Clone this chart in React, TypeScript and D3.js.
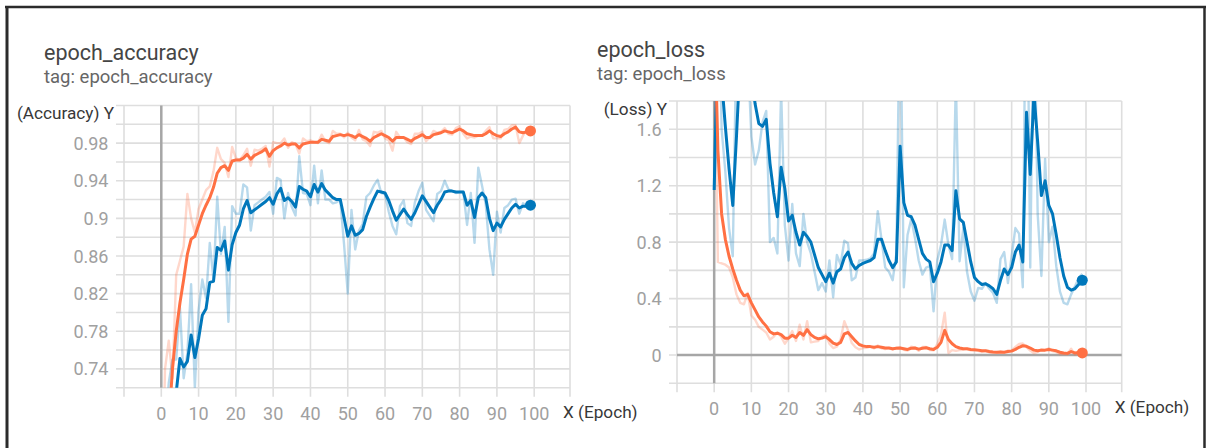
import { useEffect, useRef } from 'react';
import * as d3 from 'd3';

// epoch_accuracy, one value per epoch (0..99)
const accTrainSmooth = [
  0.55, 0.62, 0.68, 0.74, 0.78, 0.81, 0.835, 0.862, 0.878, 0.881,
  0.893, 0.905, 0.914, 0.922, 0.933, 0.948, 0.954, 0.956, 0.951, 0.961,
  0.962, 0.962, 0.964, 0.968, 0.963, 0.967, 0.969, 0.971, 0.974, 0.966,
  0.972, 0.975, 0.977, 0.98, 0.978, 0.979, 0.979, 0.975, 0.979, 0.98,
  0.981, 0.981, 0.981, 0.984, 0.983, 0.982, 0.987, 0.988, 0.989, 0.988,
  0.989, 0.988, 0.986, 0.989, 0.987, 0.985, 0.982, 0.986, 0.988, 0.99,
  0.988, 0.986, 0.982, 0.986, 0.986, 0.986, 0.984, 0.982, 0.985, 0.987,
  0.989, 0.986, 0.986, 0.989, 0.99, 0.991, 0.993, 0.992, 0.991, 0.993,
  0.995, 0.993, 0.99, 0.989, 0.988, 0.988, 0.988, 0.99, 0.993, 0.99,
  0.988, 0.987, 0.99, 0.992, 0.995, 0.997, 0.992, 0.991, 0.992, 0.993,
];
const accTrainRaw = [
  0.55, 0.74, 0.77, 0.73, 0.84, 0.855, 0.87, 0.926, 0.9, 0.885,
  0.91, 0.92, 0.93, 0.934, 0.95, 0.975, 0.963, 0.959, 0.944, 0.976,
  0.964, 0.962, 0.967, 0.974, 0.956, 0.973, 0.972, 0.974, 0.977, 0.955,
  0.981, 0.98, 0.98, 0.985, 0.975, 0.981, 0.979, 0.969, 0.985, 0.982,
  0.983, 0.981, 0.98, 0.989, 0.982, 0.98, 0.993, 0.99, 0.99, 0.986,
  0.991, 0.986, 0.983, 0.994, 0.984, 0.982, 0.977, 0.992, 0.991, 0.993,
  0.985, 0.983, 0.972, 0.992, 0.986, 0.986, 0.981, 0.979, 0.99, 0.99,
  0.992, 0.982, 0.986, 0.993, 0.991, 0.992, 0.996, 0.99, 0.989, 0.996,
  0.998, 0.99, 0.985, 0.987, 0.986, 0.988, 0.988, 0.993, 0.997, 0.985,
  0.985, 0.985, 0.994, 0.995, 0.999, 0.999, 0.98, 0.988, 0.994, 0.994,
];
const accValSmooth = [
  0.55, 0.6, 0.65, 0.69, 0.715, 0.751, 0.742, 0.748, 0.776, 0.752,
  0.772, 0.797, 0.804, 0.832, 0.833, 0.869, 0.866, 0.876, 0.845, 0.872,
  0.885, 0.893, 0.91, 0.919, 0.906, 0.909, 0.912, 0.915, 0.918, 0.922,
  0.915, 0.926, 0.932, 0.919, 0.922, 0.918, 0.912, 0.934, 0.931, 0.929,
  0.923, 0.936, 0.928, 0.937, 0.93, 0.926, 0.922, 0.92, 0.92, 0.901,
  0.881, 0.892, 0.882, 0.884, 0.888, 0.902, 0.912, 0.921, 0.929, 0.928,
  0.927, 0.919, 0.908, 0.898, 0.904, 0.91, 0.904, 0.899, 0.906, 0.915,
  0.924, 0.918, 0.912, 0.906, 0.914, 0.92, 0.928, 0.929, 0.929, 0.928,
  0.928, 0.928, 0.914, 0.919, 0.901, 0.922, 0.927, 0.922, 0.9, 0.887,
  0.895, 0.891, 0.899, 0.905, 0.911, 0.915, 0.911, 0.913, 0.913, 0.914,
];
const accValRaw = [
  0.55, 0.675, 0.725, 0.75, 0.75, 0.805, 0.73, 0.757, 0.83, 0.72,
  0.802, 0.835, 0.815, 0.874, 0.835, 0.923, 0.862, 0.891, 0.79, 0.913,
  0.905, 0.905, 0.936, 0.933, 0.887, 0.914, 0.917, 0.92, 0.923, 0.928,
  0.905, 0.943, 0.941, 0.9, 0.927, 0.912, 0.903, 0.966, 0.927, 0.926,
  0.914, 0.956, 0.916, 0.951, 0.92, 0.92, 0.916, 0.917, 0.92, 0.873,
  0.82, 0.909, 0.867, 0.887, 0.894, 0.923, 0.927, 0.935, 0.941, 0.927,
  0.926, 0.907, 0.892, 0.883, 0.913, 0.919, 0.895, 0.892, 0.917, 0.929,
  0.938, 0.909, 0.903, 0.897, 0.926, 0.929, 0.94, 0.931, 0.929, 0.927,
  0.928, 0.928, 0.893, 0.927, 0.874, 0.954, 0.935, 0.915, 0.867, 0.84,
  0.907, 0.885, 0.911, 0.914, 0.92, 0.921, 0.905, 0.916, 0.913, 0.914,
];

// epoch_loss, one value per epoch (0..99)
const lossTrainSmooth = [
  2.5, 1.45, 1.0, 0.82, 0.7, 0.61, 0.53, 0.46, 0.42, 0.43,
  0.37, 0.32, 0.27, 0.235, 0.205, 0.165, 0.15, 0.155, 0.145, 0.12,
  0.12, 0.14, 0.125, 0.16, 0.14, 0.18, 0.145, 0.125, 0.115, 0.12,
  0.13, 0.11, 0.085, 0.075, 0.09, 0.15, 0.16, 0.13, 0.1, 0.075,
  0.065, 0.06, 0.06, 0.055, 0.06, 0.055, 0.05, 0.05, 0.045, 0.048,
  0.05, 0.045, 0.04, 0.048, 0.05, 0.042, 0.048, 0.052, 0.045, 0.04,
  0.055, 0.09, 0.175, 0.11, 0.08, 0.06, 0.05, 0.045, 0.045, 0.04,
  0.038, 0.035, 0.03, 0.03, 0.025, 0.022, 0.02, 0.022, 0.02, 0.025,
  0.028, 0.04, 0.055, 0.066, 0.062, 0.05, 0.035, 0.03, 0.035, 0.035,
  0.04, 0.035, 0.03, 0.02, 0.015, 0.012, 0.025, 0.015, 0.018, 0.015,
];
const lossTrainRaw = [
  2.5, 0.66, 0.65, 0.64, 0.62, 0.55, 0.43, 0.37, 0.36, 0.44,
  0.28, 0.25, 0.2, 0.18, 0.16, 0.11, 0.13, 0.16, 0.13, 0.08,
  0.12, 0.17, 0.1, 0.215, 0.11, 0.24, 0.09, 0.095, 0.1, 0.13,
  0.145, 0.08, 0.05, 0.06, 0.11, 0.24, 0.175, 0.085, 0.055, 0.04,
  0.05, 0.052, 0.06, 0.048, 0.068, 0.048, 0.043, 0.05, 0.038, 0.052,
  0.053, 0.038, 0.032, 0.06, 0.053, 0.03, 0.057, 0.058, 0.035, 0.033,
  0.078, 0.145, 0.3, 0.015, 0.035, 0.03, 0.035, 0.038, 0.045, 0.033,
  0.035, 0.03, 0.022, 0.03, 0.018, 0.018, 0.017, 0.025, 0.017, 0.032,
  0.032, 0.058, 0.078, 0.082, 0.056, 0.032, 0.013, 0.022, 0.042, 0.035,
  0.048, 0.028, 0.022, 0.005, 0.008, 0.008, 0.045, 0.002, 0.022, 0.013,
];
const lossValSmooth = [
  1.17, 2.3, 1.95, 1.62, 1.32, 1.06, 1.55, 2.1, 2.4, 2.3,
  2.0, 1.78, 1.64, 1.62, 1.67, 1.36, 1.15, 0.98, 1.33, 1.18,
  0.95, 0.99, 0.87, 0.78, 0.87, 0.84, 0.8, 0.71, 0.62, 0.57,
  0.52, 0.58, 0.51, 0.59, 0.61, 0.69, 0.73, 0.65, 0.61, 0.635,
  0.65, 0.66, 0.67, 0.69, 0.82, 0.82, 0.74, 0.67, 0.62, 0.66,
  1.48, 1.08, 0.99, 0.98, 0.92, 0.82, 0.72, 0.68, 0.66, 0.52,
  0.58, 0.66, 0.78, 0.78, 0.74, 1.165, 0.965, 0.94, 0.8, 0.66,
  0.55, 0.52, 0.5, 0.505, 0.49, 0.47, 0.43, 0.53, 0.61, 0.57,
  0.62, 0.73, 0.78, 0.66, 1.72, 1.28, 1.85, 1.51, 1.13, 1.235,
  1.06, 1.0, 0.85, 0.69, 0.56, 0.48, 0.46, 0.47, 0.5, 0.53,
];
const lossValRaw = [
  1.17, 2.9, 1.6, 1.3, 0.9, 0.7, 2.3, 2.9, 2.85, 2.15,
  1.55, 1.35, 1.45, 1.65, 1.73, 0.8, 0.83, 0.72, 1.88, 0.92,
  0.67, 1.07, 0.72, 0.63, 1.0, 0.8, 0.72, 0.59, 0.46, 0.51,
  0.45, 0.67, 0.41, 0.71, 0.64, 0.81, 0.79, 0.53, 0.55, 0.67,
  0.67, 0.675, 0.685, 0.72, 1.02, 0.82, 0.62, 0.59, 0.53, 0.72,
  2.7, 0.48, 0.85, 0.965, 0.83, 0.67, 0.57, 0.62, 0.63, 0.31,
  0.67, 0.78, 0.96, 0.78, 0.68, 1.95, 0.665, 0.9, 0.59, 0.45,
  0.385, 0.475, 0.47, 0.51, 0.47, 0.44, 0.37, 0.68, 0.73, 0.51,
  0.7, 0.9, 0.86, 0.48, 3.3, 0.62, 2.7, 1.0, 0.56, 1.39,
  0.8, 0.91, 0.63, 0.45, 0.37, 0.36, 0.43, 0.485, 0.545, 0.575,
];

const xTickLabels = [0, 10, 20, 30, 40, 50, 60, 70, 80, 90, 100];
const accYTickLabels = [0.74, 0.78, 0.82, 0.86, 0.9, 0.94, 0.98];
const lossYTickLabels = [0, 0.4, 0.8, 1.2, 1.6];

const TRAIN_COLOR = '#ff7043';
const VAL_COLOR = '#0077bb';
const FONT = 'Roboto, "Noto Sans", sans-serif';

type Series = { raw: number[]; smooth: number[]; color: string };

type PanelConfig = {
  id: string;
  title: string;
  tag: string;
  yLabel: string;
  titleX: number;
  titleY: number;
  xRange: [number, number];
  yRange: [number, number];
  yDomain: [number, number];
  yStep: number;
  yTicks: number[];
  series: Series[];
};

const panels: PanelConfig[] = [
  {
    id: 'acc',
    title: 'epoch_accuracy',
    tag: 'tag: epoch_accuracy',
    yLabel: '(Accuracy) Y',
    titleX: 44,
    titleY: 60,
    xRange: [124, 570],
    yRange: [387.7, 105.5],
    yDomain: [0.72, 1.02],
    yStep: 0.02,
    yTicks: accYTickLabels,
    series: [
      { raw: accTrainRaw, smooth: accTrainSmooth, color: TRAIN_COLOR },
      { raw: accValRaw, smooth: accValSmooth, color: VAL_COLOR },
    ],
  },
  {
    id: 'loss',
    title: 'epoch_loss',
    tag: 'tag: epoch_loss',
    yLabel: '(Loss) Y',
    titleX: 597,
    titleY: 57,
    xRange: [677, 1121.7],
    yRange: [383.3, 101],
    yDomain: [-0.2, 1.8],
    yStep: 0.2,
    yTicks: lossYTickLabels,
    series: [
      { raw: lossValRaw, smooth: lossValSmooth, color: VAL_COLOR },
      { raw: lossTrainRaw, smooth: lossTrainSmooth, color: TRAIN_COLOR },
    ],
  },
];

function Panel({ cfg }: { cfg: PanelConfig }) {
  const ref = useRef<SVGGElement | null>(null);

  useEffect(() => {
    if (!ref.current) return;
    const g = d3.select(ref.current);
    g.selectAll('*').remove();

    const x = d3.scaleLinear().domain([-10, 109.6]).range(cfg.xRange);
    const y = d3.scaleLinear().domain(cfg.yDomain).range(cfg.yRange);
    const [left, right] = cfg.xRange;
    const [bottom, top] = cfg.yRange;
    const gridColor = '#dedede';
    const fmt = (d: number) => String(+d.toFixed(2));

    // Titles
    g.append('text')
      .attr('x', cfg.titleX)
      .attr('y', cfg.titleY)
      .attr('font-size', '21.5px')
      .attr('fill', '#454545')
      .text(cfg.title);
    g.append('text')
      .attr('x', cfg.titleX)
      .attr('y', cfg.titleY + 23)
      .attr('font-size', '18.5px')
      .attr('fill', '#666')
      .text(cfg.tag);

    // Horizontal grid (with small ticks to the left)
    const yGrid = d3.range(cfg.yDomain[0], cfg.yDomain[1] + 1e-6, cfg.yStep);
    g.selectAll('.hgrid')
      .data(yGrid)
      .enter()
      .append('line')
      .attr('x1', left - 8)
      .attr('x2', right)
      .attr('y1', (d) => y(d))
      .attr('y2', (d) => y(d))
      .attr('stroke', gridColor)
      .attr('stroke-width', 1.6);

    // Vertical grid (with small ticks below)
    const xGrid = [...d3.range(-10, 101, 10), 109.6];
    g.selectAll('.vgrid')
      .data(xGrid)
      .enter()
      .append('line')
      .attr('x1', (d) => x(d))
      .attr('x2', (d) => x(d))
      .attr('y1', top)
      .attr('y2', bottom + 9)
      .attr('stroke', gridColor)
      .attr('stroke-width', 1.6);

    // Zero axes
    g.append('line')
      .attr('x1', x(0))
      .attr('x2', x(0))
      .attr('y1', top)
      .attr('y2', bottom)
      .attr('stroke', '#a6a6a6')
      .attr('stroke-width', 2.5);
    if (cfg.yDomain[0] < 0 && cfg.yDomain[1] > 0) {
      g.append('line')
        .attr('x1', left)
        .attr('x2', right)
        .attr('y1', y(0))
        .attr('y2', y(0))
        .attr('stroke', '#a6a6a6')
        .attr('stroke-width', 2.5);
    }

    // Y tick labels
    g.selectAll('.ytick')
      .data(cfg.yTicks)
      .enter()
      .append('text')
      .attr('x', left - 15.5)
      .attr('y', (d) => y(d) + 6.5)
      .attr('text-anchor', 'end')
      .attr('font-size', '18px')
      .attr('fill', '#a0a0a0')
      .text((d) => fmt(d));

    // X tick labels
    g.selectAll('.xtick')
      .data(xTickLabels)
      .enter()
      .append('text')
      .attr('x', (d) => x(d))
      .attr('y', bottom + 32)
      .attr('text-anchor', 'middle')
      .attr('font-size', '18px')
      .attr('fill', '#a0a0a0')
      .text((d) => String(d));

    // Axis names
    g.append('text')
      .attr('x', left - 10)
      .attr('y', top + 13.5)
      .attr('text-anchor', 'end')
      .attr('font-size', '17.2px')
      .attr('fill', '#383838')
      .text(cfg.yLabel);
    g.append('text')
      .attr('x', right - 7)
      .attr('y', bottom + 30)
      .attr('font-size', '17.2px')
      .attr('fill', '#383838')
      .text('X (Epoch)');

    // Clip for lines
    const clipId = `clip-${cfg.id}`;
    g.append('clipPath')
      .attr('id', clipId)
      .append('rect')
      .attr('x', left)
      .attr('y', top)
      .attr('width', right - left)
      .attr('height', bottom - top);

    const line = d3
      .line<number>()
      .x((_, i) => x(i))
      .y((d) => y(d));

    const plot = g.append('g').attr('clip-path', `url(#${clipId})`);
    cfg.series.forEach((s) => {
      plot
        .append('path')
        .datum(s.raw)
        .attr('fill', 'none')
        .attr('stroke', s.color)
        .attr('stroke-opacity', 0.28)
        .attr('stroke-width', 2.4)
        .attr('stroke-linejoin', 'round')
        .attr('d', line);
    });
    cfg.series.forEach((s) => {
      plot
        .append('path')
        .datum(s.smooth)
        .attr('fill', 'none')
        .attr('stroke', s.color)
        .attr('stroke-width', 3)
        .attr('stroke-linejoin', 'round')
        .attr('d', line);
    });

    // Last-value markers
    cfg.series.forEach((s) => {
      const last = s.smooth.length - 1;
      g.append('circle')
        .attr('cx', x(last))
        .attr('cy', y(s.smooth[last]))
        .attr('r', 5.5)
        .attr('fill', s.color);
    });
  }, [cfg]);

  return <g ref={ref} style={{ fontFamily: FONT }} />;
}

export default function App() {
  return (
    <svg
      width={1211}
      height={448}
      style={{ position: 'fixed', left: 0, top: 0, background: '#fff', fontFamily: FONT }}
    >
      {/* Screenshot frame */}
      <line x1={5} x2={1206} y1={7} y2={7} stroke="#2b2b2b" strokeWidth={2.5} />
      <line x1={7} x2={7} y1={6} y2={448} stroke="#2b2b2b" strokeWidth={3} />
      <line x1={1204.5} x2={1204.5} y1={6} y2={448} stroke="#2b2b2b" strokeWidth={2.5} />
      {panels.map((p) => (
        <Panel key={p.id} cfg={p} />
      ))}
    </svg>
  );
}
